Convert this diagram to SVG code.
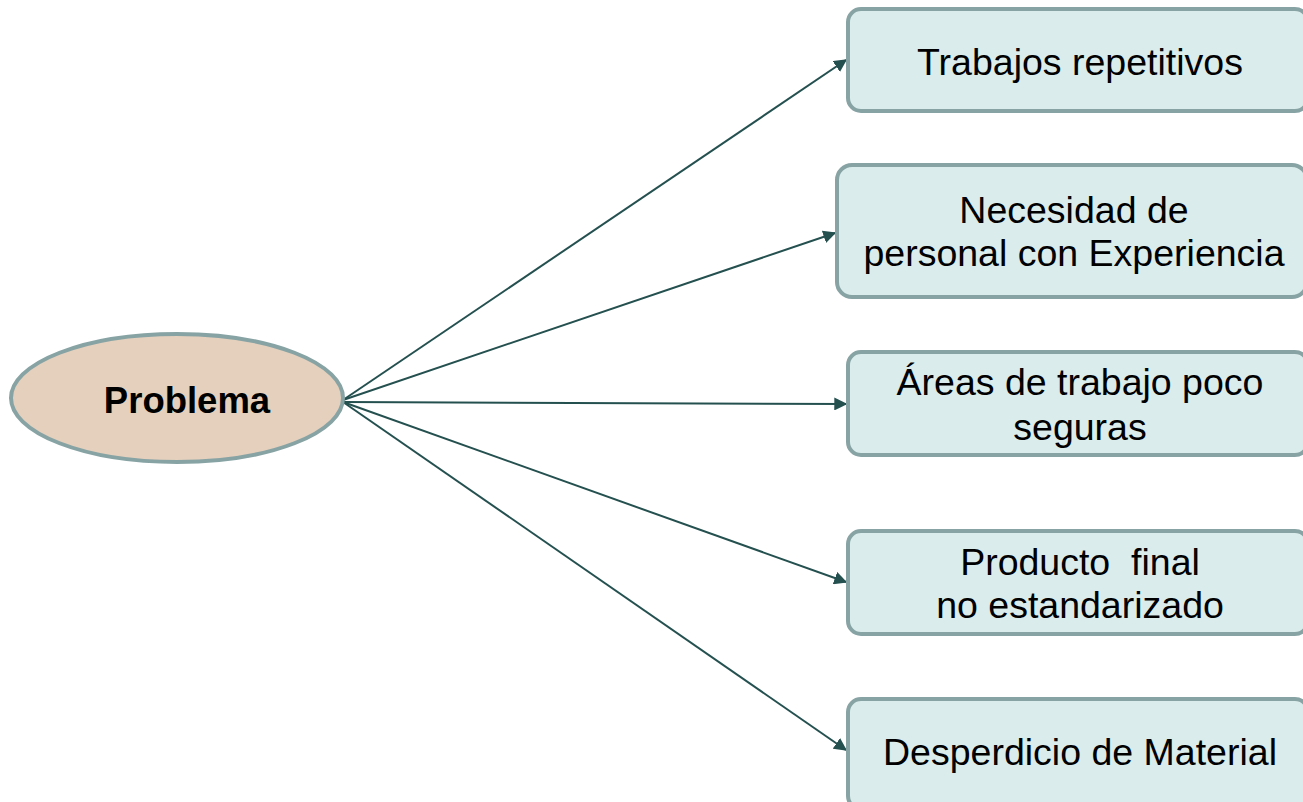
<svg xmlns="http://www.w3.org/2000/svg" width="1303" height="802" viewBox="0 0 1303 802">
<style>
.box{fill:#daecec;stroke:#88a3a4;stroke-width:4}
.ell{fill:#e4d0bd;stroke:#88a3a4;stroke-width:4}
.t{font-family:"Liberation Sans",Arial,sans-serif;font-size:37.5px;fill:#000;text-anchor:middle}
.b{font-weight:bold;font-size:36.5px}
.c{stroke:#24504f;stroke-width:2;fill:none;marker-end:url(#ah)}
</style>
<defs>
<marker id="ah" viewBox="0 0 10 10" refX="9" refY="5" markerWidth="6.5" markerHeight="6.5" markerUnits="strokeWidth" orient="auto">
<path d="M0,0 L10,5 L0,10 z" fill="#24504f"/>
</marker>
</defs>
<rect width="1303" height="802" fill="#fff"/>
<g id="connectors">
<line class="c" x1="343" y1="400" x2="846" y2="60"/>
<line class="c" x1="343" y1="400" x2="835" y2="233"/>
<line class="c" x1="343" y1="402" x2="846" y2="404"/>
<line class="c" x1="343" y1="402" x2="846" y2="582"/>
<line class="c" x1="343" y1="402" x2="846" y2="750"/>
</g>
<g id="problema">
<ellipse class="ell" cx="177" cy="398" rx="166" ry="64"/>
<text class="t b" x="187" y="413">Problema</text>
</g>
<g id="n1">
<rect class="box" x="848" y="9" width="460" height="102" rx="13"/>
<text class="t" x="1080" y="75">Trabajos repetitivos</text>
</g>
<g id="n2">
<rect class="box" x="837" y="165" width="470" height="132" rx="15"/>
<text class="t" x="1074" y="223">Necesidad de</text>
<text class="t" x="1074" y="266">personal con Experiencia</text>
</g>
<g id="n3">
<rect class="box" x="848" y="352" width="460" height="103" rx="13"/>
<text class="t" x="1080" y="395">Áreas de trabajo poco</text>
<text class="t" x="1080" y="440">seguras</text>
</g>
<g id="n4">
<rect class="box" x="848" y="531" width="460" height="103" rx="13"/>
<text class="t" x="1080" y="575" xml:space="preserve">Producto  final</text>
<text class="t" x="1080" y="618">no estandarizado</text>
</g>
<g id="n5">
<rect class="box" x="848" y="699" width="460" height="110" rx="13"/>
<text class="t" x="1080" y="765">Desperdicio de Material</text>
</g>
</svg>
